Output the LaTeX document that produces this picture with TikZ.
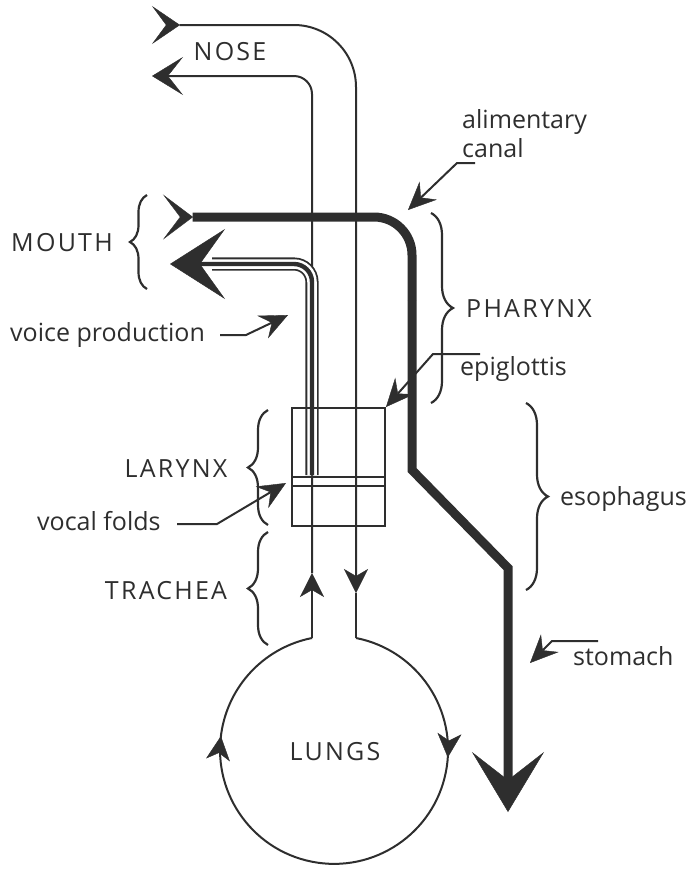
\documentclass[tikz,border=0pt]{standalone}
\usepackage{fontspec}
\setmainfont{Open Sans}
\newfontfamily\capsfont[LetterSpace=9]{Open Sans}
\usetikzlibrary{arrows.meta,decorations.pathreplacing,decorations.markings,positioning}
\definecolor{ink}{HTML}{2E2E2E}

\tikzset{
  air/.style={draw=ink, line width=2pt},
  food/.style={draw=ink, line width=9pt},
  flowend/.style={arrows={-Stealth[length=24pt,width=24pt,inset=7pt,line width=0.4pt]}},
  brace/.style={draw=ink, line width=2.2pt, decorate, decoration={brace, amplitude=#1}},
  brace/.default=20pt,
  lbl/.style={text=ink, inner sep=0pt, font=\fontsize{25}{29}\selectfont},
  caps/.style={text=ink, inner sep=0pt, font=\fontsize{25}{29}\selectfont\capsfont},
  note/.style={draw=ink, line width=2pt, arrows={-Stealth[length=28pt,width=25pt,inset=10pt,line width=0.4pt]}},
}

\begin{document}
\begin{tikzpicture}[x=1pt, y=-1pt]
  \useasboundingbox (0,0) rectangle (690,871);
  % key points
  \coordinate (lc) at (334,749);
  \coordinate (trL) at (312,638); \coordinate (trR) at (356,638);
  \coordinate (noseIn) at (152,25); \coordinate (noseOut) at (152,76);
  \coordinate (mouthIn) at (163,217); \coordinate (mouthOut) at (170,264);
  \coordinate (folds) at (312,475);

  % alimentary canal
  \draw[food, rounded corners=38pt, arrows={Stealth[reversed,length=30pt,width=45pt,inset=17pt,line width=0.4pt]-}]
    (mouthIn) -- (412,217) -- (412,300);
  \draw[food, line join=miter, arrows={-Stealth[length=60pt,width=72pt,inset=28pt,line width=0.4pt]}]
    (412,300) -- (412,470) -- (508,568) -- (508,812);

  % breathing in
  \draw[air, rounded corners=62pt,
        arrows={Stealth[reversed,length=28pt,width=38pt,inset=14pt,line width=0.4pt]-Stealth[length=24pt,width=24pt,inset=7pt,line width=0.4pt]}]
    (noseIn) -- (356,25) -- (356,593);
  \draw[air] (356,593) -- (trR);
  % lungs
  \draw[air, postaction={decorate}, decoration={markings,
      mark=at position 0.245 with {\arrow{Stealth[length=24pt,width=24pt,inset=7pt,line width=0.4pt]}},
      mark=at position 0.787 with {\arrow{Stealth[length=24pt,width=24pt,inset=7pt,line width=0.4pt]}}}]
    (trR) arc[start angle=-78.9, end angle=258.9, radius=114];
  % breathing out
  \draw[air, flowend] (trL) -- (312,573);
  \draw[air, rounded corners=18pt, arrows={-Stealth[length=31pt,width=38pt,inset=15pt,line width=0.4pt]}]
    (312,573) -- (312,76) -- (noseOut);

  % voice
  \draw[ink, line width=1.8pt, double=white, double distance=9.5pt, rounded corners=18pt]
    (folds) -- (312,264) -- (212,264);
  \draw[ink, line width=4.4pt, rounded corners=18pt, arrows={-Stealth[length=55pt,width=70pt,inset=25pt,line width=0.4pt]}]
    (folds) -- (312,264) -- (mouthOut);

  % larynx box and vocal folds
  \node[draw=ink, line width=2pt, minimum width=93pt, minimum height=118pt, inner sep=0pt] (box) at (338.5,467) {};
  \draw[ink, line width=2pt] (292,477) -- (385,477);
  \draw[ink, line width=2pt] (292,486) -- (385,486);

  % braces
  \draw[brace=17pt] (147,289) -- (147,195);
  \draw[brace] (268,525) -- (268,410);
  \draw[brace] (268,645) -- (268,532);
  \draw[brace=22pt] (431,213) -- (431,403);
  \draw[brace=22pt] (526,403) -- (526,590);

  % labels
  \node[caps] (nose) at (230,52) {NOSE};
  \node[caps] (mouth) at (62,243) {MOUTH};
  \node[caps] (larynx) at (176,469) {LARYNX};
  \node[caps] (trachea) at (166,591) {TRACHEA};
  \node[caps] (pharynx) at (529,309) {PHARYNX};
  \node[caps] (lungs) at (335,752) {LUNGS};
  \node[lbl, anchor=north west, align=left] (alim) at (462,109) {alimentary\\canal};
  \node[lbl, anchor=base west] (epig) at (460,375) {epiglottis};
  \node[lbl, anchor=base west] (esoph) at (560,505) {esophagus};
  \node[lbl, anchor=base west] (stomach) at (573,665) {stomach};
  \node[lbl, anchor=base west] (vfolds) at (37,530) {vocal folds};
  \node[lbl, anchor=base west] (voice) at (10,341) {voice production};

  % pointers
  \coordinate (alimA) at (475,163); \coordinate (alimB) at (457,163); \coordinate (alimT) at (408,210);
  \draw[note] (alimA) -- (alimB) -- (alimT);
  \coordinate (epigA) at (480,354); \coordinate (epigB) at (433,354);
  \draw[note] (epigA) -- (epigB) -- (box.north east);
  \coordinate (foldA) at (177,524); \coordinate (foldB) at (217,524); \coordinate (foldT) at (286,483);
  \draw[note] (foldA) -- (foldB) -- (foldT);
  \coordinate (voiceA) at (220,335); \coordinate (voiceB) at (246,335); \coordinate (voiceT) at (288,315);
  \draw[note] (voiceA) -- (voiceB) -- (voiceT);
  \coordinate (stomA) at (598,641); \coordinate (stomB) at (552,641); \coordinate (stomT) at (530,663);
  \draw[note] (stomA) -- (stomB) -- (stomT);
\end{tikzpicture}
\end{document}
